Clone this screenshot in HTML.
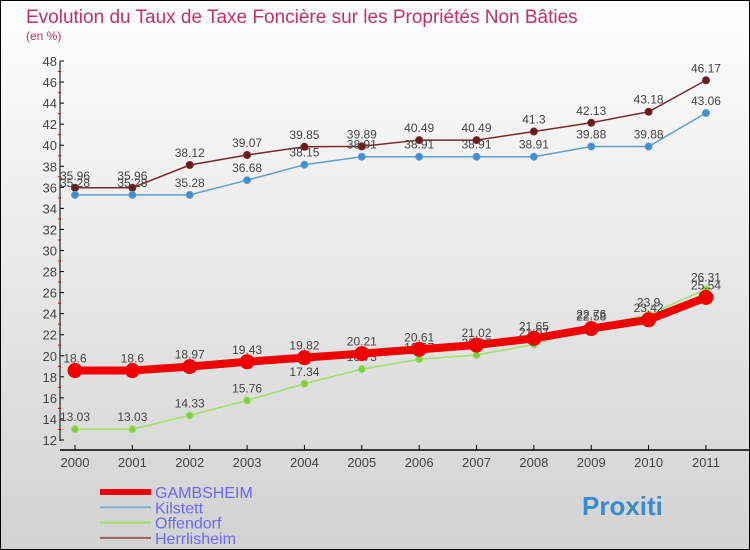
<!DOCTYPE html>
<html><head><meta charset="utf-8"><style>
body{margin:0;width:750px;height:550px;overflow:hidden;font-family:"Liberation Sans",sans-serif}
svg{display:block}
</style></head><body>
<svg id="chart" width="750" height="550">
<defs><linearGradient id="bg" x1="0" y1="0" x2="0" y2="1"><stop offset="0" stop-color="#fefefe"/><stop offset="1" stop-color="#d2d2d2"/></linearGradient></defs>
<rect x="0.5" y="0.5" width="749" height="549" fill="url(#bg)" stroke="#000"/>
<text x="26" y="23" font-size="19" fill="#c0306a">Evolution du Taux de Taxe Foncière sur les Propriétés Non Bâties</text>
<text x="26" y="40" font-size="12" fill="#c0306a">(en %)</text>
<g id="axes"></g><g id="series"></g><g id="legend"></g>
</svg>
<script>
const years=["2000","2001","2002","2003","2004","2005","2006","2007","2008","2009","2010","2011"];
const gambsheim=[18.6,18.6,18.97,19.43,19.82,20.21,20.61,21.02,21.65,22.58,23.42,25.54];
const kilstett=[35.28,35.28,35.28,36.68,38.15,38.91,38.91,38.91,38.91,39.88,39.88,43.06];
const offendorf=[13.03,13.03,14.33,15.76,17.34,18.73,19.67,20.07,21.07,22.76,23.9,26.31];
const herrlisheim=[35.96,35.96,38.12,39.07,39.85,39.89,40.49,40.49,41.3,42.13,43.18,46.17];
const yTicks=[12,14,16,18,20,22,24,26,28,30,32,34,36,38,40,42,44,46,48];
const NS="http://www.w3.org/2000/svg";
const X=i=>75+i*57.36, Y=v=>440-(v-12)*(379/36);
function mk(tag,attrs,parent,txt){const e=document.createElementNS(NS,tag);for(const k in attrs)e.setAttribute(k,attrs[k]);if(txt!==undefined)e.textContent=txt;parent.appendChild(e);return e;}
const ax=document.getElementById('axes');
let l=mk('line',{x1:60,y1:61,x2:60,y2:441,stroke:'#000'},ax);


l=mk('line',{x1:60,y1:450,x2:750,y2:450,stroke:'#000','stroke-width':1.5},ax);


yTicks.forEach((v,i)=>{
  mk('line',{x1:60,y1:Y(v),x2:64,y2:Y(v),stroke:'#000'},ax);
  if(i<yTicks.length-1)mk('line',{x1:58,y1:Y(v+1),x2:61,y2:Y(v+1),stroke:'#e00'},ax);
  const t=mk('text',{x:57,y:Y(v)+5,'font-size':13,fill:'#444','text-anchor':'end'},ax,String(v));
  
  
});
years.forEach((y,i)=>{
  mk('line',{x1:X(i),y1:445,x2:X(i),y2:450,stroke:'#000'},ax);
  const t=mk('text',{x:X(i),y:467,'font-size':13,fill:'#444','text-anchor':'middle'},ax,y);
  
  
});
const sg=document.getElementById('series');
function series(name,data,color,w,r,dot){
  const g=mk('g',{},sg);
  
  
  const p=mk('polyline',{points:data.map((v,i)=>X(i)+','+Y(v)).join(' '),fill:'none',stroke:color,'stroke-width':w},g);
  
  
  data.forEach((v,i)=>{
    const c=mk('circle',{cx:X(i),cy:Y(v),r:r,fill:dot,stroke:color,'stroke-width':1},g);
    
    
    const t=mk('text',{x:X(i),y:Y(v)-8,'font-size':12,fill:'#444','text-anchor':'middle'},g,String(v));
    
    
  });
}
series('herrlisheim',herrlisheim,'#7a2a2a',1.5,3.5,'#6a1a1a');
series('kilstett',kilstett,'#5f9fd0',1.5,3.5,'#3f8fd0');
series('offendorf',offendorf,'#9ee06a',1.5,3.5,'#7cd040');
series('gambsheim',gambsheim,'#f00000',8,7,'#f00000');
const lg=document.getElementById('legend');
[['GAMBSHEIM','#ee0000',6],['Kilstett','#7fafd0',2],['Offendorf','#9ee06a',2],['Herrlisheim','#9a6060',2]].forEach((d,i)=>{
  const y=492+i*15.3;
  const g=mk('g',{},lg);
  
  
  mk('line',{x1:100,y1:y,x2:151,y2:y,stroke:d[1],'stroke-width':d[2]},g);
  mk('text',{x:155,y:y+6,'font-size':16,fill:'#6a6af0'},g,d[0]);
});
const b=mk('text',{x:582,y:515,'font-size':26,'font-weight':'bold',fill:'#3a8ad0'},lg,'Proxiti');


</script>
</body></html>
